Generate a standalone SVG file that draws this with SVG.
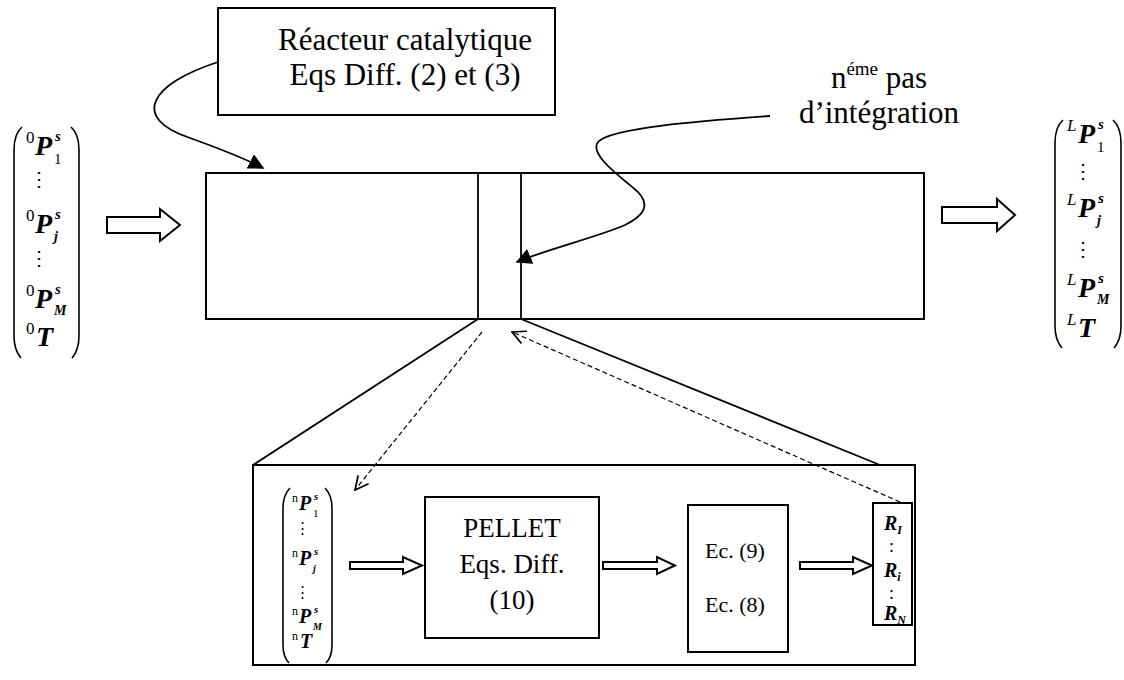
<svg xmlns="http://www.w3.org/2000/svg" width="1124" height="680" viewBox="0 0 1124 680">
  <style>
    .box { fill: #fff; stroke: #000; stroke-width: 2; }
    .ln { fill: none; stroke: #000; stroke-width: 1.8; }
    .dash { fill: none; stroke: #000; stroke-width: 1.2; stroke-dasharray: 5 3; }
    .hollow { fill: #fff; stroke: #000; stroke-width: 2; stroke-linejoin: miter; }
    .brk { fill: none; stroke: #000; stroke-width: 1.6; }
    .t { font-family: "Liberation Serif", "Times New Roman", serif; fill: #000; }
    .big { font-size: 31px; }
    .mid { font-size: 27px; }
    .ec { font-size: 22px; }
    .P { font-family: "Liberation Serif", serif; font-style: italic; font-weight: bold; fill: #000; }
    .pre { font-family: "Liberation Serif", serif; fill: #000; }
    .dots { font-family: "DejaVu Serif", serif; fill: #000; }
  </style>
  <defs>
    <marker id="solidB" viewBox="0 0 10 10" refX="9" refY="5" markerWidth="16" markerHeight="16" markerUnits="userSpaceOnUse" orient="auto">
      <path d="M0,0 L10,5 L0,10 z" fill="#000"/>
    </marker>
    <marker id="open" viewBox="0 0 12 12" refX="11" refY="6" markerWidth="16" markerHeight="16" markerUnits="userSpaceOnUse" orient="auto">
      <path d="M1,1 L11,6 L1,11" fill="none" stroke="#000" stroke-width="1.3"/>
    </marker>
  </defs>

  <!-- reactor tube with the current slice -->
  <g id="reactor">
    <rect class="box" x="206" y="173" width="718" height="146"/>
    <line class="ln" x1="478" y1="173" x2="478" y2="319"/>
    <line class="ln" x1="521" y1="173" x2="521" y2="319"/>
  </g>

  <!-- reactor label -->
  <g id="label-reactor">
    <rect class="box" x="218" y="8" width="337" height="107"/>
    <text class="t big" x="405" y="50" text-anchor="middle">Réacteur catalytique</text>
    <text class="t big" x="405" y="85" text-anchor="middle">Eqs Diff. (2) et (3)</text>
  </g>

  <!-- integration step label -->
  <g id="label-step">
    <text class="t big" x="879" y="88" text-anchor="middle">n<tspan font-size="19" dy="-13">éme</tspan><tspan dy="13"> pas</tspan></text>
    <text class="t big" x="879" y="123" text-anchor="middle">d’intégration</text>
  </g>

  <!-- inlet vector -->
  <g id="vec-in">
    <path class="brk" d="M22,127 Q14,134 14,150 L14,336 Q14,350 21,358"/>
    <path class="brk" d="M71,127 Q79,134 79,150 L79,336 Q79,350 72,358"/>
    <text class="pre" x="26" y="143" font-size="17">0</text>
    <text class="P" x="35" y="155" font-size="28">P</text>
    <text class="P" x="55" y="141" font-size="15">s</text>
    <text class="pre" x="54" y="164" font-size="15">1</text>
    <text class="dots" x="39" y="186" font-size="20" text-anchor="middle">⋮</text>
    <text class="pre" x="26" y="221" font-size="17">0</text>
    <text class="P" x="35" y="233" font-size="28">P</text>
    <text class="P" x="55" y="219" font-size="15">s</text>
    <text class="P" x="54" y="241" font-size="14">j</text>
    <text class="dots" x="39" y="265" font-size="20" text-anchor="middle">⋮</text>
    <text class="pre" x="26" y="296" font-size="17">0</text>
    <text class="P" x="35" y="308" font-size="28">P</text>
    <text class="P" x="55" y="294" font-size="15">s</text>
    <text class="P" x="54" y="315" font-size="14">M</text>
    <text class="pre" x="26" y="334" font-size="17">0</text>
    <text class="P" x="36" y="346" font-size="28">T</text>
  </g>

  <!-- outlet vector -->
  <g id="vec-out">
    <path class="brk" d="M1063,120 Q1055,127 1055,143 L1055,326 Q1055,340 1062,348"/>
    <path class="brk" d="M1113,120 Q1121,127 1121,143 L1121,326 Q1121,340 1114,348"/>
    <text class="pre" x="1067" y="131" font-size="17" font-style="italic">L</text>
    <text class="P" x="1078" y="143" font-size="28">P</text>
    <text class="P" x="1098" y="129" font-size="15">s</text>
    <text class="pre" x="1097" y="152" font-size="15">1</text>
    <text class="dots" x="1083" y="178" font-size="20" text-anchor="middle">⋮</text>
    <text class="pre" x="1067" y="205" font-size="17" font-style="italic">L</text>
    <text class="P" x="1078" y="217" font-size="28">P</text>
    <text class="P" x="1098" y="203" font-size="15">s</text>
    <text class="P" x="1097" y="225" font-size="14">j</text>
    <text class="dots" x="1083" y="256" font-size="20" text-anchor="middle">⋮</text>
    <text class="pre" x="1067" y="285" font-size="17" font-style="italic">L</text>
    <text class="P" x="1078" y="297" font-size="28">P</text>
    <text class="P" x="1098" y="283" font-size="15">s</text>
    <text class="P" x="1097" y="304" font-size="14">M</text>
    <text class="pre" x="1067" y="325" font-size="17" font-style="italic">L</text>
    <text class="P" x="1078" y="337" font-size="28">T</text>
  </g>

  <!-- enlarged view of the slice -->
  <g id="zoom-frame">
    <rect class="box" x="253" y="465" width="662" height="200"/>
  </g>

  <!-- local vector in the slice -->
  <g id="vec-slice">
    <path class="brk" d="M290,488 Q283,495 283,508 L283,645 Q283,657 289,663"/>
    <path class="brk" d="M325,488 Q332,495 332,508 L332,645 Q332,657 326,663"/>
    <text class="pre" x="292" y="502" font-size="12">n</text>
    <text class="P" x="299" y="510" font-size="20">P</text>
    <text class="P" x="314" y="500" font-size="11">s</text>
    <text class="pre" x="313" y="517" font-size="11">1</text>
    <text class="dots" x="302" y="533" font-size="15" text-anchor="middle">⋮</text>
    <text class="pre" x="292" y="557" font-size="12">n</text>
    <text class="P" x="299" y="565" font-size="20">P</text>
    <text class="P" x="314" y="555" font-size="11">s</text>
    <text class="P" x="313" y="572" font-size="10">j</text>
    <text class="dots" x="302" y="597" font-size="15" text-anchor="middle">⋮</text>
    <text class="pre" x="292" y="615" font-size="12">n</text>
    <text class="P" x="299" y="623" font-size="20">P</text>
    <text class="P" x="314" y="613" font-size="11">s</text>
    <text class="P" x="313" y="630" font-size="10">M</text>
    <text class="pre" x="292" y="640" font-size="12">n</text>
    <text class="P" x="300" y="648" font-size="20">T</text>
  </g>

  <g id="pellet">
    <rect class="box" x="425" y="497" width="174" height="141"/>
    <text class="t mid" x="512" y="537" text-anchor="middle">PELLET</text>
    <text class="t mid" x="512" y="573" text-anchor="middle">Eqs. Diff.</text>
    <text class="t mid" x="512" y="609" text-anchor="middle">(10)</text>
  </g>

  <g id="equations">
    <rect class="box" x="688" y="505" width="100" height="147"/>
    <text class="t ec" x="735" y="558" text-anchor="middle">Ec. (9)</text>
    <text class="t ec" x="735" y="612" text-anchor="middle">Ec. (8)</text>
  </g>

  <g id="rates">
    <rect class="box" x="873" y="503" width="39" height="122"/>
    <text class="P" x="884" y="530" font-size="20">R<tspan font-size="12" dy="4">I</tspan></text>
    <text class="t" x="889" y="552" font-size="18">:</text>
    <text class="P" x="884" y="577" font-size="20">R<tspan font-size="12" dy="4">i</tspan></text>
    <text class="t" x="889" y="599" font-size="18">:</text>
    <text class="P" x="884" y="620" font-size="20">R<tspan font-size="12" dy="4">N</tspan></text>
  </g>

  <!-- connectors -->
  <g id="connectors">
    <polygon class="hollow" points="107,217 160,217 160,209 180,225 160,241 160,233 107,233"/>
    <polygon class="hollow" points="942,207 997,207 997,199 1015,215 997,231 997,223 942,223"/>
    <polygon class="hollow" points="350,562 403,562 403,557 422,565.5 403,574 403,569 350,569"/>
    <polygon class="hollow" points="603,562 657,562 657,557 675,565.5 657,574 657,569 603,569"/>
    <polygon class="hollow" points="800,562 853,562 853,557 872,565.5 853,574 853,569 800,569"/>

    <line class="ln" x1="478" y1="319" x2="253" y2="465"/>
    <line class="ln" x1="521" y1="319" x2="880" y2="465"/>

    <path class="ln" d="M218,62 C150,84 130,118 190,138 C215,147 240,156 263,168" marker-end="url(#solidB)"/>
    <path class="ln" d="M770,116 C700,121 610,128 598,142 C588,155 625,180 638,192 C650,205 645,215 625,225 C595,238 550,248 517,262" marker-end="url(#solidB)"/>

    <line class="dash" x1="482" y1="332" x2="355" y2="490" marker-end="url(#open)"/>
    <line class="dash" x1="900" y1="502" x2="512" y2="332" marker-end="url(#open)"/>
  </g>
</svg>
